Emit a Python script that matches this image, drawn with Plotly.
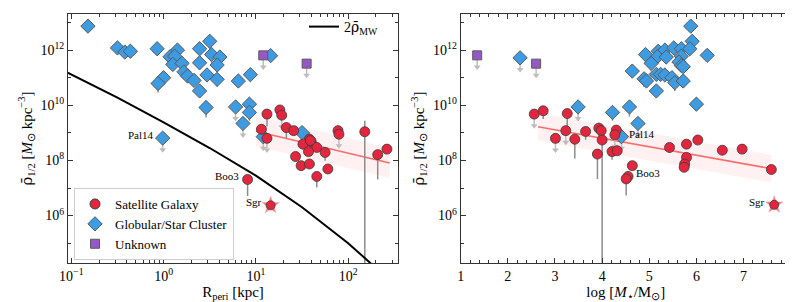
import plotly.graph_objects as go

# ---------------- data: left panel (R_peri) ----------------
# log10 R_peri [kpc], log10 rho, err_lo (dex), err_hi (dex), upper-limit flag
gc_left_logR = [-0.82, -0.50, -0.42, -0.36, -0.07, 0.15, 0.07, 0.12, 0.10, 0.20, 0.22, 0.26, 0.33, 0.00,
                -0.06, 0.39, 0.50, 0.39, 0.52, 0.61, 0.58, 0.47, 0.58, 0.39, 0.81, 0.94, 0.46, 0.78,
                0.93, 0.93, 0.86, 1.16, 1.50, 1.08, -0.01]
gc_left_logrho = [12.87, 12.08, 11.93, 11.96, 12.05, 12.00, 11.76, 11.78, 11.48, 11.52, 11.21, 11.06, 10.90, 11.00,
                  10.79, 12.05, 12.32, 11.54, 11.84, 11.75, 11.46, 11.10, 10.94, 10.52, 10.88, 11.11, 9.92, 9.94,
                  10.04, 9.74, 9.34, 11.80, 9.01, 8.86, 8.81]
gc_left_lo = [0, 0, 0, 0, 0, 0, 0, 0, 0, 0, 0, 0, 0, 0,
              0.33, 0, 0, 0, 0.30, 0, 0, 0, 0.27, 0, 0, 0, 0.36, 0,
              0, 0.30, 0, 0, 0, 0, 0]
gc_left_ul = [0, 0, 0, 0, 0, 0, 0, 0, 0, 0, 0, 0, 0, 0,
              0, 0, 0, 0, 0, 0, 0, 0, 0, 0, 0, 0, 0, 1,
              0, 0, 1, 0, 0, 1, 1]

unk_left_logR = [1.08, 1.55]
unk_left_logrho = [11.81, 11.51]

sat_left_logR = [1.12, 1.26, 1.28, 1.06, 1.12, 1.33, 1.41, 1.58, 1.60, 1.51, 1.66, 1.57, 1.75, 1.89,
                 1.90, 2.18, 2.32, 2.42, 1.43, 1.49, 1.58, 1.78, 1.66, 0.91, 1.59]
sat_left_logrho = [9.68, 9.83, 9.64, 9.13, 8.80, 9.19, 9.08, 8.77, 8.68, 8.59, 8.47, 8.32, 8.29, 9.08,
                   8.95, 9.04, 8.21, 8.41, 8.14, 7.81, 7.87, 7.69, 7.42, 7.31, 8.72]
sat_left_lo = [0.45, 0, 0, 0, 0, 0.40, 0, 0.20, 0, 0, 0, 0, 0.30, 0,
               0, 5.0, 0.90, 0, 0, 0, 0, 0, 0.40, 0.60, 0]
sat_left_hi = [0, 0, 0, 0, 0, 0, 0, 0.25, 0, 0, 0, 0, 0, 0,
               0, 0.40, 0, 0, 0, 0, 0, 0, 0, 0, 0]
sat_left_ul = [0, 0, 1, 0, 1, 0, 0, 0, 0, 0, 0, 0, 0, 0,
               1, 0, 0, 0, 0, 0, 0, 0, 0, 0, 0]

sgr_left = (1.16, 6.37)
pal14_left = (-0.01, 8.81)
boo3_left = (0.91, 7.31)

# Milky Way 2*mean density curve
mw_logR = [-1.04, -0.50, 0.00, 0.50, 1.00, 1.50, 2.00, 2.20, 2.50]
mw_logrho = [11.18, 10.28, 9.38, 8.45, 7.45, 6.30, 5.00, 4.38, 3.50]

# fit line + band (left)
fitL_logR = [1.00, 2.45]
fitL_logrho = [9.06, 7.91]
fitL_half = 0.55

# ---------------- data: right panel (log M_star) ----------------
gc_right_logM = [2.26, 3.49, 4.22, 4.58, 4.76, 4.41, 6.00, 6.23, 5.88, 5.91, 4.92, 5.19, 5.33, 5.52,
                 5.68, 5.86, 5.17, 5.36, 5.68, 5.04, 5.63, 5.68, 5.72, 4.64, 4.89, 4.94, 5.15, 5.24,
                 5.33, 5.48, 5.54, 5.72, 5.15]
gc_right_logrho = [11.72, 9.94, 9.74, 9.94, 9.34, 8.86, 10.04, 11.81, 12.87, 12.32, 11.84, 11.96, 12.00, 12.08,
                   12.05, 12.05, 11.76, 11.75, 11.78, 11.52, 11.57, 11.44, 11.40, 11.24, 10.96, 10.88, 11.12, 11.12,
                   11.10, 11.00, 10.82, 10.88, 10.52]
gc_right_lo = [0, 0, 0.30, 0.35, 0, 0, 0, 0.20, 0, 0, 0.30, 0, 0, 0,
               0, 0, 0, 0, 0, 0, 0, 0, 0, 0, 0.30, 0, 0, 0,
               0, 0, 0.30, 0, 0]
gc_right_ul = [1, 1, 0, 0, 1, 1, 0, 0, 0, 0, 0, 0, 0, 0,
               0, 0, 0, 0, 0, 1, 0, 0, 0, 0, 0, 0, 0, 0,
               0, 0, 0, 0, 0]

unk_right_logM = [1.35, 2.60]
unk_right_logrho = [11.81, 11.51]

sat_right_logM = [2.56, 2.75, 3.26, 3.23, 3.01, 3.42, 3.65, 3.93, 3.98, 4.00, 3.90, 4.30, 4.27, 4.21,
                  4.32, 4.64, 4.55, 4.51, 5.43, 5.79, 6.03, 5.79, 5.75, 5.74, 6.55, 6.97, 7.59]
sat_right_logrho = [9.68, 9.80, 9.70, 9.08, 8.80, 8.77, 9.05, 9.17, 9.08, 8.74, 8.23, 9.10, 8.93, 8.32,
                    8.35, 7.81, 7.42, 7.33, 8.47, 8.59, 8.74, 8.11, 7.87, 7.75, 8.37, 8.41, 7.67]
sat_right_lo = [0, 0.30, 0.50, 0, 0, 0.70, 0.30, 0.30, 0, 6.0, 0.90, 0, 0, 0.30,
                0, 0, 0, 0.60, 0.20, 0, 0, 0, 0, 0, 0, 0, 0]
sat_right_hi = [0, 0, 0, 0, 0, 0, 0, 0.20, 0, 0, 0, 0, 0, 0,
                0, 0, 0, 0, 0, 0, 0, 0, 0, 0, 0, 0, 0]
sat_right_ul = [1, 0, 0, 1, 1, 0, 0, 0, 0, 0, 0, 0, 1, 0,
                0, 0, 0, 0, 0, 0, 0, 0, 0, 0, 0, 0, 0]

sgr_right = (7.65, 6.39)
pal14_right = (4.41, 8.86)
boo3_right = (4.55, 7.42)

fitR_logM = [2.64, 7.59]
fitR_logrho = [9.22, 7.70]
fitR_half = 0.5

# tick labels
ylog_ticks = [6, 8, 10, 12]
ylog_text = ["10<sup>6</sup>", "10<sup>8</sup>", "10<sup>10</sup>", "10<sup>12</sup>"]
xlog_ticks = [0.1, 1, 10, 100]
xlog_text = ["10<sup>−1</sup>", "10<sup>0</sup>", "10<sup>1</sup>", "10<sup>2</sup>"]

# ---------------- styles ----------------
RED = "#E3263E"
BLUE = "#3D9BE2"
PURPLE = "#9658C6"
FONT = "Liberation Serif"
ARROW = 0.42  # dex length of upper-limit arrows
RHOBAR = "<span style='font-family:DejaVu Serif'>ρ̄</span>"


def P(v):
    return 10 ** v


def err_segments(xs, ys, lo, hi, xlin):
    sx, sy = [], []
    for x, y, l, h in zip(xs, ys, lo, hi):
        if l or h:
            xx = x if xlin else P(x)
            sx += [xx, xx, None]
            sy += [P(y - l), P(y + h), None]
    return sx, sy


def arrows(xs, ys, ul, xlin):
    sx, sy, tx, ty = [], [], [], []
    for x, y, u in zip(xs, ys, ul):
        if u:
            xx = x if xlin else P(x)
            sx += [xx, xx, None]
            sy += [P(y), P(y - ARROW), None]
            tx.append(xx)
            ty.append(P(y - ARROW))
    return sx, sy, tx, ty


fig = go.Figure()


def add_panel(xa, ya, xlin, gc_x, gc_y, gc_lo, gc_ul, un_x, un_y, sa_x, sa_y, sa_lo, sa_hi, sa_ul,
              fit_x, fit_y, half, sgr):
    X = (lambda v: v) if xlin else P
    bx = [X(fit_x[0]), X(fit_x[1]), X(fit_x[1]), X(fit_x[0]), X(fit_x[0])]
    by = [P(fit_y[0] + half), P(fit_y[1] + half), P(fit_y[1] - half), P(fit_y[0] - half), P(fit_y[0] + half)]
    fig.add_trace(go.Scatter(x=bx, y=by, fill="toself", fillcolor="rgba(255,120,120,0.10)",
                             line=dict(width=0), mode="lines", showlegend=False, hoverinfo="skip",
                             xaxis=xa, yaxis=ya))
    fig.add_trace(go.Scatter(x=[X(v) for v in fit_x], y=[P(v) for v in fit_y], mode="lines",
                             line=dict(color="#FF6B6B", width=1.5), showlegend=False,
                             xaxis=xa, yaxis=ya))
    zeros_gc = [0] * len(gc_x)
    ex, ey = err_segments(gc_x, gc_y, gc_lo, zeros_gc, xlin)
    ex2, ey2 = err_segments(sa_x, sa_y, sa_lo, sa_hi, xlin)
    fig.add_trace(go.Scatter(x=ex + ex2, y=ey + ey2, mode="lines", line=dict(color="#8c8c8c", width=1.5),
                             showlegend=False, hoverinfo="skip", xaxis=xa, yaxis=ya))
    ax_, ay_, tx, ty = [], [], [], []
    for xs, ys, ul in [(gc_x, gc_y, gc_ul), (sa_x, sa_y, sa_ul), (un_x, un_y, [1] * len(un_x))]:
        a, b, c, d = arrows(xs, ys, ul, xlin)
        ax_ += a; ay_ += b; tx += c; ty += d
    fig.add_trace(go.Scatter(x=ax_, y=ay_, mode="lines", line=dict(color="#bdbdbd", width=1.5),
                             showlegend=False, hoverinfo="skip", xaxis=xa, yaxis=ya))
    fig.add_trace(go.Scatter(x=tx, y=ty, mode="markers",
                             marker=dict(symbol="triangle-down", size=6, color="#bdbdbd"),
                             showlegend=False, hoverinfo="skip", xaxis=xa, yaxis=ya))
    fig.add_trace(go.Scatter(x=[X(v) for v in gc_x], y=[P(v) for v in gc_y], mode="markers",
                             name="Globular/Star Cluster",
                             marker=dict(symbol="diamond", size=11, color=BLUE,
                                         line=dict(color="#5a5a5a", width=1)),
                             showlegend=False, xaxis=xa, yaxis=ya))
    fig.add_trace(go.Scatter(x=[X(v) for v in un_x], y=[P(v) for v in un_y], mode="markers",
                             name="Unknown",
                             marker=dict(symbol="square", size=9, color=PURPLE,
                                         line=dict(color="#5a5a5a", width=1)),
                             showlegend=False, xaxis=xa, yaxis=ya))
    fig.add_trace(go.Scatter(x=[X(v) for v in sa_x], y=[P(v) for v in sa_y], mode="markers",
                             name="Satellite Galaxy",
                             marker=dict(symbol="circle", size=10, color=RED,
                                         line=dict(color="#3a3a3a", width=0.8)),
                             showlegend=False, xaxis=xa, yaxis=ya))
    fig.add_trace(go.Scatter(x=[X(sgr[0])], y=[P(sgr[1])], mode="markers",
                             marker=dict(symbol="star", size=13, color="#F07C86",
                                         line=dict(color="#FF9A9A", width=0.5)),
                             showlegend=False, xaxis=xa, yaxis=ya))
    fig.add_trace(go.Scatter(x=[X(sgr[0])], y=[P(sgr[1])], mode="markers",
                             marker=dict(symbol="circle", size=9, color=RED,
                                         line=dict(color="#3a3a3a", width=0.8)),
                             showlegend=False, xaxis=xa, yaxis=ya))


add_panel("x", "y", False, gc_left_logR, gc_left_logrho, gc_left_lo, gc_left_ul,
          unk_left_logR, unk_left_logrho, sat_left_logR, sat_left_logrho, sat_left_lo, sat_left_hi,
          sat_left_ul, fitL_logR, fitL_logrho, fitL_half, sgr_left)

fig.add_trace(go.Scatter(x=[P(v) for v in mw_logR], y=[P(v) for v in mw_logrho], mode="lines",
                         line=dict(color="black", width=2), name="2" + RHOBAR + "<sub>MW</sub>",
                         legend="legend2", showlegend=True, xaxis="x", yaxis="y"))

add_panel("x2", "y2", True, gc_right_logM, gc_right_logrho, gc_right_lo, gc_right_ul,
          unk_right_logM, unk_right_logrho, sat_right_logM, sat_right_logrho, sat_right_lo, sat_right_hi,
          sat_right_ul, fitR_logM, fitR_logrho, fitR_half, sgr_right)

for nm, sym, col, sz, lc in [("Satellite Galaxy", "circle", RED, 10, "#3a3a3a"),
                             ("Globular/Star Cluster", "diamond", BLUE, 11, "#5a5a5a"),
                             ("Unknown", "square", PURPLE, 9, "#5a5a5a")]:
    fig.add_trace(go.Scatter(x=[None], y=[None], mode="markers", name=nm,
                             marker=dict(symbol=sym, size=sz, color=col, line=dict(color=lc, width=1)),
                             showlegend=True, legend="legend", xaxis="x", yaxis="y"))

ann = []
for (x, y), txt, side, xa, ya in [(pal14_left, "Pal14", "left", "x", "y"),
                                  (boo3_left, "Boo3", "left", "x", "y"),
                                  (sgr_left, "Sgr", "left", "x", "y"),
                                  (pal14_right, "Pal14", "right", "x2", "y2"),
                                  (boo3_right, "Boo3", "right", "x2", "y2"),
                                  (sgr_right, "Sgr", "left", "x2", "y2")]:
    ann.append(dict(x=x, y=y, xref=xa, yref=ya, text=txt, showarrow=False,
                    xanchor="right" if side == "left" else "left",
                    xshift=-7 if side == "left" else 6, yshift=3,
                    font=dict(family=FONT, size=11, color="black")))

axis_common = dict(showline=True, linecolor="#333", linewidth=1, mirror="allticks", ticks="inside",
                   ticklen=5, tickcolor="#333", showgrid=False, zeroline=False, automargin=False,
                   tickfont=dict(family=FONT, size=14, color="black"))

ydom = [1 - 255 / 302, 1 - 6 / 302]
minor_x = [k * 10 ** d for d in range(-2, 3) for k in range(2, 10)]
minor_y = [10 ** d for d in range(4, 15)]

ytitle = RHOBAR + "<sub>1/2</sub> [<i>M</i><sub>⊙</sub> kpc<sup>−3</sup>]"

fig.update_layout(
    width=793, height=302, margin=dict(l=0, r=0, t=0, b=0),
    plot_bgcolor="white", paper_bgcolor="white",
    font=dict(family=FONT, size=14, color="black"),
    annotations=ann,
    xaxis=dict(type="log", domain=[60 / 793, 390 / 793], range=[-1.036, 2.54],
               tickvals=xlog_ticks, ticktext=xlog_text,
               minor=dict(tickvals=minor_x, ticks="inside", ticklen=3, tickcolor="#333"),
               title=dict(text="R<sub>peri</sub> [kpc]", font=dict(family=FONT, size=15), standoff=0),
               anchor="y", **axis_common),
    yaxis=dict(type="log", domain=ydom, range=[4.28, 13.31],
               tickvals=[10 ** v for v in ylog_ticks], ticktext=ylog_text,
               minor=dict(tickvals=minor_y, ticks="inside", ticklen=3, tickcolor="#333"),
               title=dict(text=ytitle, font=dict(family=FONT, size=15), standoff=4),
               anchor="x", **axis_common),
    xaxis2=dict(type="linear", domain=[452.7 / 793, 782.7 / 793], range=[1, 8], dtick=1,
                minor=dict(dtick=0.2, ticks="inside", ticklen=3, tickcolor="#333"),
                title=dict(text="log [<i>M</i><sub>⋆</sub>/M<sub>⊙</sub>]", font=dict(family=FONT, size=15),
                           standoff=0),
                anchor="y2", **axis_common),
    yaxis2=dict(type="log", domain=ydom, range=[4.28, 13.31],
                tickvals=[10 ** v for v in ylog_ticks], ticktext=ylog_text,
                minor=dict(tickvals=minor_y, ticks="inside", ticklen=3, tickcolor="#333"),
                title=dict(text=ytitle, font=dict(family=FONT, size=15), standoff=4),
                anchor="x2", **axis_common),
    legend=dict(x=66 / 793, y=1 - 180 / 302, xanchor="left", yanchor="top",
                bgcolor="white", bordercolor="#cccccc", borderwidth=1,
                font=dict(family=FONT, size=13), tracegroupgap=0, itemwidth=30),
    legend2=dict(x=296 / 793, y=1 - 3 / 302, xanchor="left", yanchor="top",
                 bgcolor="rgba(0,0,0,0)", font=dict(family=FONT, size=14), itemwidth=30),
)

fig.write_html("out.html")
